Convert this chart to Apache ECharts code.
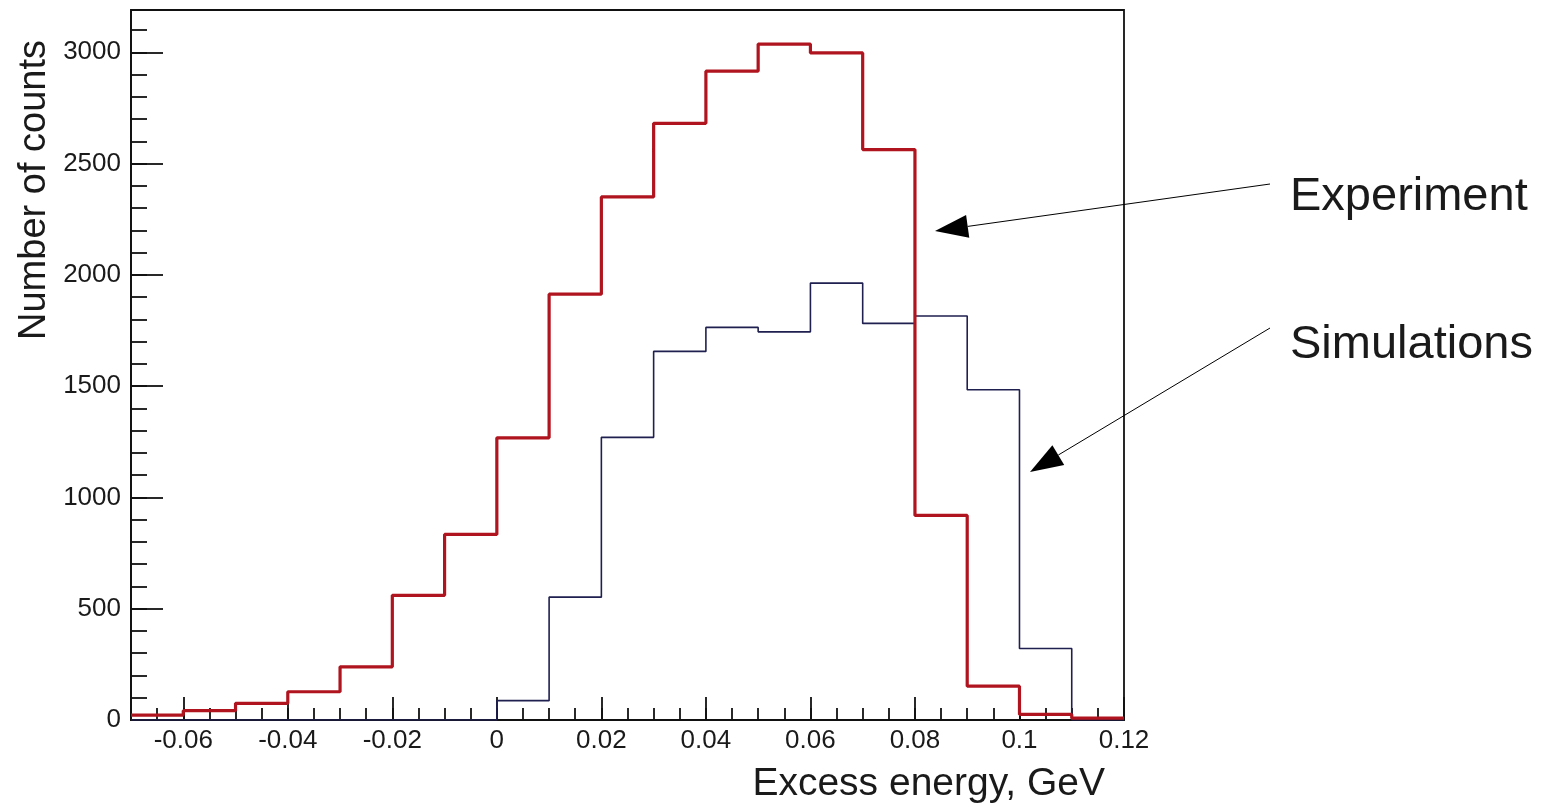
<!DOCTYPE html>
<html>
<head>
<meta charset="utf-8">
<script src="https://cdn.jsdelivr.net/npm/echarts@6/dist/echarts.min.js"></script>
<style>
html,body{margin:0;padding:0;background:#fff;}
#chart{width:1555px;height:810px;}
</style>
</head>
<body>
<div id="chart"></div>
<script>
// ---- data ----
var binStarts = [-0.07,-0.06,-0.05,-0.04,-0.03,-0.02,-0.01,0.00,0.01,0.02,0.03,0.04,0.05,0.06,0.07,0.08,0.09,0.10,0.11];
var binEnd = 0.12;
var experiment = [22,42,75,127,239,560,834,1268,1913,2350,2681,2915,3037,2997,2563,919,152,25,8];
var simulations = [0,0,0,0,0,0,0,87,552,1270,1656,1764,1744,1963,1782,1815,1484,321,0];
var xTickLabels = [-0.06,-0.04,-0.02,0,0.02,0.04,0.06,0.08,0.1,0.12];
var yTickLabels = [0,500,1000,1500,2000,2500,3000];
var xAxisTitle = 'Excess energy, GeV';
var yAxisTitle = 'Number of counts';
var annotations = ['Experiment','Simulations'];

// ---- helpers ----
var X_MIN = -0.07, X_MAX = 0.12, Y_MIN = 0, Y_MAX = 3190;
function minorTicks(lo, hi, step){
  var out = [];
  var n = Math.round((hi - lo) / step);
  for (var i = 0; i <= n; i++) out.push(+(lo + i * step).toFixed(6));
  return out;
}
function histPoints(vals){
  var pts = binStarts.map(function(x, i){ return [x, vals[i]]; });
  pts.push([binEnd, vals[vals.length - 1]]);
  return pts;
}
function fmt(v){ return String(parseFloat((+v).toFixed(3))); }
function fmtInt(v){ return String(Math.round(+v)); }

var FONT = '"Liberation Sans", Arial, Helvetica, sans-serif';
var TXT = '#1a1a1a';
var AX = '#111';

function arrow(x1, y1, x2, y2){
  var dx = x2 - x1, dy = y2 - y1, L = Math.sqrt(dx*dx + dy*dy);
  var ux = dx / L, uy = dy / L, hl = 33, hw = 11.5;
  var bx = x2 - ux * hl, by = y2 - uy * hl;
  return [
    {type:'line', shape:{x1:x1, y1:y1, x2:bx, y2:by}, style:{stroke:'#000', lineWidth:1}, z:100},
    {type:'polygon', shape:{points:[[x2,y2],[bx - uy*hw, by + ux*hw],[bx + uy*hw, by - ux*hw]]}, style:{fill:'#000'}, z:100}
  ];
}

var chart = echarts.init(document.getElementById('chart'), null, {renderer:'canvas'});

var graphics = [].concat(
  arrow(1270, 184, 935, 231),
  arrow(1270, 328, 1030, 472),
  [
    {type:'text', left:1290, top:197 - 23, style:{text:annotations[0], font:'47px ' + FONT, fill:TXT, textVerticalAlign:'top'}, z:100},
    {type:'text', left:1290, top:345 - 23, style:{text:annotations[1], font:'47px ' + FONT, fill:TXT, textVerticalAlign:'top'}, z:100},
    {type:'text', x:35, y:190, rotation:Math.PI/2, style:{text:yAxisTitle, font:'38px ' + FONT, fill:TXT, textAlign:'center', textVerticalAlign:'middle'}, z:100},
    {type:'text', x:1105, y:784, style:{text:xAxisTitle, font:'39px ' + FONT, fill:TXT, textAlign:'right', textVerticalAlign:'middle'}, z:100}
  ]
);

var option = {
  animation: false,
  backgroundColor: '#fff',
  grid: {left:131, top:10, width:993, height:710, show:true, borderColor:AX, borderWidth:1.8, backgroundColor:'#fff'},
  xAxis: [
    {
      type:'value', position:'bottom', min:X_MIN, max:X_MAX, interval:0.005,
      axisLine:{show:true, onZero:false, lineStyle:{color:AX, width:1.8}},
      axisTick:{show:true, inside:true, length:23, customValues:xTickLabels, lineStyle:{color:AX, width:1.8}},
      axisLabel:{show:true, customValues:xTickLabels, formatter:fmt, fontSize:26, fontFamily:FONT, color:TXT, margin:8},
      splitLine:{show:false}
    },
    {
      type:'value', position:'bottom', min:X_MIN, max:X_MAX, interval:0.005,
      axisLine:{show:false, onZero:false},
      axisTick:{show:true, inside:true, length:12, customValues:minorTicks(X_MIN, X_MAX, 0.005), lineStyle:{color:AX, width:1.8}},
      axisLabel:{show:false}, splitLine:{show:false}
    }
  ],
  yAxis: [
    {
      type:'value', position:'left', min:Y_MIN, max:Y_MAX, interval:100,
      axisLine:{show:true, onZero:false, lineStyle:{color:AX, width:1.8}},
      axisTick:{show:true, inside:true, length:32, customValues:yTickLabels, lineStyle:{color:AX, width:1.8}},
      axisLabel:{show:true, customValues:yTickLabels, formatter:fmtInt, fontSize:26, fontFamily:FONT, color:TXT, margin:10},
      splitLine:{show:false}
    },
    {
      type:'value', position:'left', min:Y_MIN, max:Y_MAX, interval:100,
      axisLine:{show:false, onZero:false},
      axisTick:{show:true, inside:true, length:16, customValues:minorTicks(0, 3100, 100), lineStyle:{color:AX, width:1.8}},
      axisLabel:{show:false}, splitLine:{show:false}
    }
  ],
  series: [
    {
      name:'Simulations', type:'line', step:'end', xAxisIndex:0, yAxisIndex:0,
      data:histPoints(simulations), symbol:'none', clip:true,
      lineStyle:{color:'#1f1f50', width:1.6}, z:3
    },
    {
      name:'Experiment', type:'line', step:'end', xAxisIndex:0, yAxisIndex:0,
      data:histPoints(experiment), symbol:'none', clip:true,
      lineStyle:{color:'#b0141e', width:3.2}, z:4
    }
  ],
  graphic: graphics
};
chart.setOption(option);
</script>
</body>
</html>
